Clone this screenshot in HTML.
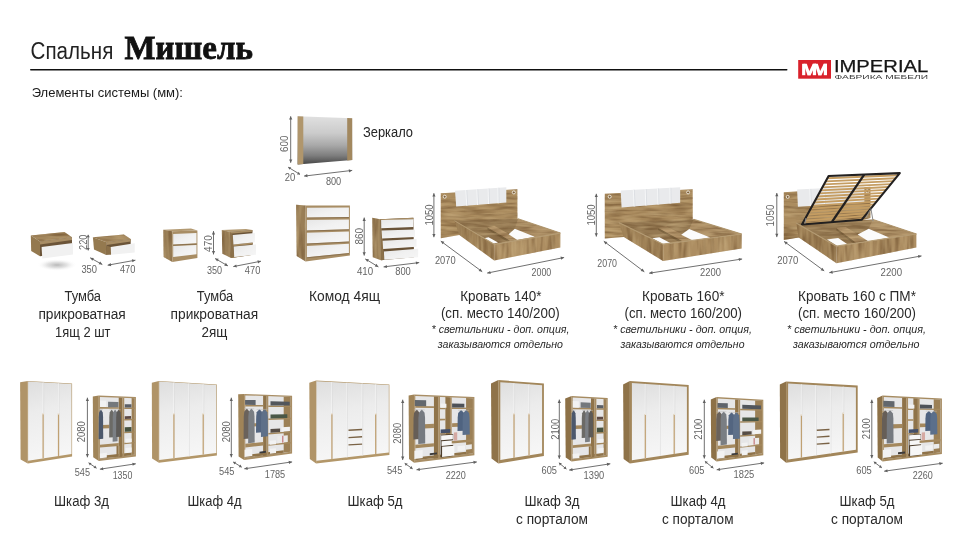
<!DOCTYPE html><html><head><meta charset="utf-8"><title>Спальня Мишель</title>
<style>html,body{margin:0;padding:0;background:#fff;}svg{display:block;will-change:transform;opacity:0.9999}</style></head><body>
<svg width="963" height="557" viewBox="0 0 963 557">
<defs>
<linearGradient id="mir" x1="0" y1="0" x2="0" y2="1"><stop offset="0" stop-color="#e0e0e0"/><stop offset="0.35" stop-color="#cbcbcb"/><stop offset="0.6" stop-color="#a9a9a9"/><stop offset="0.82" stop-color="#7d7d7d"/><stop offset="1" stop-color="#464646"/></linearGradient>
<linearGradient id="door" x1="0" y1="0" x2="0.15" y2="1"><stop offset="0" stop-color="#dedede"/><stop offset="0.4" stop-color="#ececec"/><stop offset="1" stop-color="#f6f6f6"/></linearGradient>
<linearGradient id="drw" x1="0" y1="0" x2="1" y2="1"><stop offset="0" stop-color="#e6e6e6"/><stop offset="0.5" stop-color="#f1f1f1"/><stop offset="1" stop-color="#f6f6f6"/></linearGradient>
<radialGradient id="shadow"><stop offset="0" stop-color="#b8b8b8"/><stop offset="0.5" stop-color="#dcdcdc" stop-opacity="0.8"/><stop offset="1" stop-color="#ffffff" stop-opacity="0"/></radialGradient>
<filter id="grain" x="0" y="0" width="100%" height="100%" color-interpolation-filters="sRGB"><feTurbulence type="fractalNoise" baseFrequency="0.045 0.3" numOctaves="2" seed="11" result="n"/><feColorMatrix in="n" type="matrix" values="0 0 0 0 0.40  0 0 0 0 0.28  0 0 0 0 0.15  1.3 0 0 0 -0.5" result="d"/><feColorMatrix in="n" type="matrix" values="0 0 0 0 0.80  0 0 0 0 0.70  0 0 0 0 0.52  0 1.3 0 0 -0.55" result="l"/><feMerge result="m"><feMergeNode in="d"/><feMergeNode in="l"/></feMerge><feComposite in="m" in2="SourceGraphic" operator="in" result="gi"/><feMerge><feMergeNode in="SourceGraphic"/><feMergeNode in="gi"/></feMerge></filter>
<filter id="grainv" x="0" y="0" width="100%" height="100%" color-interpolation-filters="sRGB"><feTurbulence type="fractalNoise" baseFrequency="0.22 0.03" numOctaves="2" seed="5" result="n"/><feColorMatrix in="n" type="matrix" values="0 0 0 0 0.40  0 0 0 0 0.28  0 0 0 0 0.15  1.3 0 0 0 -0.5" result="d"/><feColorMatrix in="n" type="matrix" values="0 0 0 0 0.80  0 0 0 0 0.70  0 0 0 0 0.52  0 1.3 0 0 -0.55" result="l"/><feMerge result="m"><feMergeNode in="d"/><feMergeNode in="l"/></feMerge><feComposite in="m" in2="SourceGraphic" operator="in" result="gi"/><feMerge><feMergeNode in="SourceGraphic"/><feMergeNode in="gi"/></feMerge></filter>
<filter id="soft" x="0" y="0" width="963" height="557" filterUnits="userSpaceOnUse" color-interpolation-filters="sRGB"><feGaussianBlur stdDeviation="0.4"/></filter>
</defs>
<rect width="963" height="557" fill="#ffffff"/>
<text x="30.60" y="59.30" font-family="Liberation Sans, sans-serif" font-size="23.00" fill="#222" textLength="82.70" lengthAdjust="spacingAndGlyphs" >Спальня</text>
<text x="124.50" y="59.30" font-family="Liberation Serif, serif" font-size="34.00" fill="#111" textLength="128.30" lengthAdjust="spacingAndGlyphs" font-weight="bold" stroke="#111" stroke-width="0.8">Мишель</text>
<rect x="30.00" y="69.00" width="757.50" height="1.60" fill="#111" rx="0.8"/>
<text x="31.70" y="96.90" font-family="Liberation Sans, sans-serif" font-size="13.00" fill="#1a1a1a" textLength="151.30" lengthAdjust="spacingAndGlyphs" >Элементы системы (мм):</text>
<rect x="798.20" y="60.00" width="32.80" height="18.70" fill="#d9212b" />
<polygon points="802.10,63.80 805.30,63.80 805.30,75.20 802.10,75.20" fill="#fff" />
<polygon points="803.50,63.80 806.80,63.80 810.80,75.20 807.50,75.20" fill="#fff" />
<polygon points="807.30,75.20 810.60,75.20 816.10,63.80 812.80,63.80" fill="#fff" />
<polygon points="812.80,63.80 816.10,63.80 816.10,75.20 812.80,75.20" fill="#fff" />
<polygon points="814.50,63.80 817.80,63.80 821.60,75.20 818.30,75.20" fill="#fff" />
<polygon points="818.10,75.20 821.40,75.20 827.00,63.80 823.70,63.80" fill="#fff" />
<polygon points="823.80,63.80 827.00,63.80 827.00,75.20 823.80,75.20" fill="#fff" />
<text x="833.90" y="71.80" font-family="Liberation Sans, sans-serif" font-size="15.70" fill="#151515" textLength="94.40" lengthAdjust="spacingAndGlyphs" stroke="#151515" stroke-width="0.25">IMPERIAL</text>
<text x="834.60" y="78.60" font-family="Liberation Sans, sans-serif" font-size="4.80" fill="#3a3a3a" textLength="93.40" lengthAdjust="spacingAndGlyphs" >ФАБРИКА МЕБЕЛИ</text>
<g filter="url(#soft)">
<polygon points="297.60,116.30 352.20,118.20 352.20,159.90 297.60,164.40" fill="url(#mir)" />
<polygon points="297.60,116.30 303.30,116.60 303.30,164.00 297.60,164.40" fill="#b0966c" />
<polygon points="347.20,118.00 352.20,118.20 352.20,159.90 347.20,160.40" fill="#a2885f" />
<line x1="290.70" y1="116.30" x2="290.70" y2="162.80" stroke="#606060" stroke-width="0.90" />
<polygon points="290.70,116.30 289.10,119.60 292.30,119.60" fill="#606060" />
<polygon points="290.70,162.80 289.10,159.50 292.30,159.50" fill="#606060" />
<text transform="translate(288.20,152.00) rotate(-90)" font-family="Liberation Sans, sans-serif" font-size="10.30" fill="#646464" textLength="16.50" lengthAdjust="spacingAndGlyphs">600</text>
<line x1="288.20" y1="167.20" x2="300.00" y2="174.40" stroke="#606060" stroke-width="0.90" />
<polygon points="288.20,167.20 289.50,169.87 291.17,167.14" fill="#606060" />
<polygon points="300.00,174.40 297.03,174.46 298.70,171.73" fill="#606060" />
<text x="284.70" y="180.60" font-family="Liberation Sans, sans-serif" font-size="10.30" fill="#646464" textLength="10.50" lengthAdjust="spacingAndGlyphs" >20</text>
<line x1="304.10" y1="176.10" x2="352.20" y2="170.40" stroke="#606060" stroke-width="0.90" />
<polygon points="304.10,176.10 307.57,177.30 307.19,174.12" fill="#606060" />
<polygon points="352.20,170.40 349.11,172.38 348.73,169.20" fill="#606060" />
<text x="325.90" y="185.40" font-family="Liberation Sans, sans-serif" font-size="10.30" fill="#646464" textLength="15.30" lengthAdjust="spacingAndGlyphs" >800</text>
<text x="363.00" y="136.50" font-family="Liberation Sans, sans-serif" font-size="14.00" fill="#262626" textLength="50.00" lengthAdjust="spacingAndGlyphs" >Зеркало</text>
<ellipse cx="57" cy="265" rx="20" ry="6" fill="url(#shadow)"/>
<g filter="url(#grain)">
<polygon points="30.80,235.50 64.50,231.90 72.00,237.30 40.00,241.60" fill="#a3875d" />
</g>
<polygon points="30.80,235.50 40.00,241.60 40.00,256.20 31.20,251.00" fill="#94794f" />
<polygon points="40.00,241.60 72.00,237.30 72.00,252.00 40.00,256.20" fill="#6b5438" />
<polygon points="40.00,241.60 72.00,237.30 72.00,240.10 40.00,244.40" fill="#a88d65" />
<polygon points="41.60,247.00 73.00,243.00 73.00,254.40 42.30,258.50" fill="#f1f1f1" />
<g filter="url(#grain)">
<polygon points="92.90,237.30 123.90,234.60 130.70,238.90 106.40,242.30" fill="#a3875d" />
</g>
<polygon points="92.90,237.30 106.40,242.30 105.70,254.80 94.00,249.40" fill="#94794f" />
<polygon points="106.40,242.30 130.70,238.90 130.70,250.00 105.70,254.80" fill="#6b5438" />
<polygon points="106.40,242.30 130.70,238.90 130.70,241.50 106.40,244.90" fill="#a88d65" />
<polygon points="106.40,245.60 110.70,247.00 111.10,254.80 105.70,254.80" fill="#8a6f48" />
<polygon points="110.70,247.00 134.70,243.20 134.70,252.40 111.10,254.80" fill="#f1f1f1" />
<line x1="88.20" y1="234.80" x2="88.20" y2="250.40" stroke="#606060" stroke-width="0.90" />
<polygon points="88.20,234.80 86.60,237.30 89.80,237.30" fill="#606060" />
<polygon points="88.20,250.40 86.60,247.90 89.80,247.90" fill="#606060" />
<text transform="translate(87.10,249.90) rotate(-90)" font-family="Liberation Sans, sans-serif" font-size="10.30" fill="#646464" textLength="15.30" lengthAdjust="spacingAndGlyphs">220</text>
<line x1="90.20" y1="257.80" x2="102.30" y2="264.50" stroke="#606060" stroke-width="0.90" />
<polygon points="90.20,257.80 92.31,260.80 93.86,258.00" fill="#606060" />
<polygon points="102.30,264.50 98.64,264.30 100.19,261.50" fill="#606060" />
<text x="81.40" y="273.10" font-family="Liberation Sans, sans-serif" font-size="10.30" fill="#646464" textLength="15.60" lengthAdjust="spacingAndGlyphs" >350</text>
<line x1="107.70" y1="265.20" x2="135.40" y2="260.20" stroke="#606060" stroke-width="0.90" />
<polygon points="107.70,265.20 111.23,266.19 110.66,263.04" fill="#606060" />
<polygon points="135.40,260.20 132.44,262.36 131.87,259.21" fill="#606060" />
<text x="119.90" y="273.10" font-family="Liberation Sans, sans-serif" font-size="10.30" fill="#646464" textLength="15.50" lengthAdjust="spacingAndGlyphs" >470</text>
<polygon points="163.30,229.70 191.00,228.60 197.40,230.40 172.30,231.20" fill="#b39a72" />
<g filter="url(#grainv)">
<polygon points="163.30,229.70 172.30,231.20 172.30,262.00 163.70,257.00" fill="#997e56" />
</g>
<polygon points="172.30,231.20 197.40,230.40 197.40,258.10 172.30,262.00" fill="#a88d64" />
<polygon points="173.20,234.10 196.50,233.00 196.50,243.30 173.20,244.40" fill="url(#drw)" />
<polygon points="173.20,246.00 196.50,244.90 196.50,254.30 173.20,257.00" fill="url(#drw)" />
<line x1="173.20" y1="245.20" x2="196.50" y2="244.10" stroke="#7d6444" stroke-width="0.70" />
<polygon points="221.80,230.10 246.00,229.00 252.40,230.10 230.10,231.90" fill="#b39a72" />
<g filter="url(#grainv)">
<polygon points="221.80,230.10 230.10,231.90 231.20,258.10 222.40,253.70" fill="#997e56" />
</g>
<polygon points="230.10,231.90 252.40,230.10 252.90,254.80 231.20,258.10" fill="#6a5337" />
<polygon points="230.10,231.90 252.40,230.10 252.40,231.80 230.10,233.70" fill="#a88d64" />
<polygon points="230.60,244.80 252.60,242.60 252.60,244.20 230.60,246.50" fill="#a88d64" />
<polygon points="231.10,256.30 252.90,253.20 252.90,254.80 231.20,258.10" fill="#a88d64" />
<polygon points="230.10,231.90 232.80,235.00 234.20,257.00 231.20,258.10" fill="#8b7049" />
<polygon points="232.80,235.00 254.90,233.00 254.90,242.20 233.40,244.40" fill="url(#drw)" />
<polygon points="233.70,246.60 256.00,244.40 256.00,254.80 234.20,257.00" fill="url(#drw)" />
<line x1="213.50" y1="231.10" x2="213.50" y2="254.40" stroke="#606060" stroke-width="0.90" />
<polygon points="213.50,231.10 211.90,234.40 215.10,234.40" fill="#606060" />
<polygon points="213.50,254.40 211.90,251.10 215.10,251.10" fill="#606060" />
<text transform="translate(211.70,251.90) rotate(-90)" font-family="Liberation Sans, sans-serif" font-size="10.30" fill="#646464" textLength="16.60" lengthAdjust="spacingAndGlyphs">470</text>
<line x1="215.10" y1="258.50" x2="227.90" y2="265.90" stroke="#606060" stroke-width="0.90" />
<polygon points="215.10,258.50 217.16,261.54 218.76,258.77" fill="#606060" />
<polygon points="227.90,265.90 224.24,265.63 225.84,262.86" fill="#606060" />
<text x="207.00" y="273.80" font-family="Liberation Sans, sans-serif" font-size="10.30" fill="#646464" textLength="15.10" lengthAdjust="spacingAndGlyphs" >350</text>
<line x1="233.30" y1="266.60" x2="261.00" y2="261.20" stroke="#606060" stroke-width="0.90" />
<polygon points="233.30,266.60 236.85,267.54 236.23,264.40" fill="#606060" />
<polygon points="261.00,261.20 258.07,263.40 257.45,260.26" fill="#606060" />
<text x="244.80" y="273.80" font-family="Liberation Sans, sans-serif" font-size="10.30" fill="#646464" textLength="15.50" lengthAdjust="spacingAndGlyphs" >470</text>
<g filter="url(#grainv)">
<polygon points="296.10,204.70 305.60,205.60 305.60,261.50 296.70,256.00" fill="#997e56" />
</g>
<polygon points="305.60,205.60 349.90,205.60 349.90,255.40 305.60,261.50" fill="#a88d64" />
<polygon points="306.90,207.80 348.90,207.50 348.90,216.90 306.90,217.50" fill="url(#drw)" />
<line x1="306.90" y1="218.10" x2="348.90" y2="217.50" stroke="#806747" stroke-width="0.70" />
<polygon points="306.90,220.00 348.90,219.40 348.90,229.20 306.90,230.40" fill="url(#drw)" />
<line x1="306.90" y1="231.00" x2="348.90" y2="229.80" stroke="#806747" stroke-width="0.70" />
<polygon points="306.90,232.80 348.90,231.60 348.90,241.40 306.90,243.40" fill="url(#drw)" />
<line x1="306.90" y1="244.00" x2="348.90" y2="242.00" stroke="#806747" stroke-width="0.70" />
<polygon points="306.90,245.90 348.90,243.80 348.90,253.00 306.90,257.20" fill="url(#drw)" />
<line x1="306.90" y1="257.80" x2="348.90" y2="253.60" stroke="#806747" stroke-width="0.70" />
<g filter="url(#grainv)">
<polygon points="372.20,217.80 380.10,219.20 381.10,260.30 372.80,257.20" fill="#997e56" />
</g>
<polygon points="380.10,219.20 413.40,217.80 414.00,257.20 381.10,260.30" fill="#6a5337" />
<polygon points="380.10,219.20 413.40,217.80 413.40,219.20 380.10,220.60" fill="#a88d64" />
<polygon points="380.10,219.20 381.30,220.20 384.30,259.70 381.10,260.30" fill="#8b7049" />
<polygon points="381.10,220.10 413.40,219.20 413.40,227.10 381.30,228.30" fill="url(#drw)" />
<polygon points="381.60,230.60 415.00,229.60 415.00,236.90 382.10,238.60" fill="url(#drw)" />
<polygon points="382.60,240.70 416.50,239.10 416.50,246.70 383.10,249.00" fill="url(#drw)" />
<polygon points="383.90,251.40 418.10,248.70 418.10,257.20 384.30,259.70" fill="url(#drw)" />
<line x1="364.20" y1="217.60" x2="364.20" y2="255.60" stroke="#606060" stroke-width="0.90" />
<polygon points="364.20,217.60 362.60,220.90 365.80,220.90" fill="#606060" />
<polygon points="364.20,255.60 362.60,252.30 365.80,252.30" fill="#606060" />
<text transform="translate(362.90,244.50) rotate(-90)" font-family="Liberation Sans, sans-serif" font-size="10.30" fill="#646464" textLength="16.60" lengthAdjust="spacingAndGlyphs">860</text>
<line x1="365.30" y1="258.90" x2="378.40" y2="266.90" stroke="#606060" stroke-width="0.90" />
<polygon points="365.30,258.90 367.28,261.99 368.95,259.25" fill="#606060" />
<polygon points="378.40,266.90 374.75,266.55 376.42,263.81" fill="#606060" />
<text x="356.90" y="274.70" font-family="Liberation Sans, sans-serif" font-size="10.30" fill="#646464" textLength="16.20" lengthAdjust="spacingAndGlyphs" >410</text>
<line x1="383.60" y1="266.90" x2="419.20" y2="262.60" stroke="#606060" stroke-width="0.90" />
<polygon points="383.60,266.90 387.07,268.09 386.68,264.92" fill="#606060" />
<polygon points="419.20,262.60 416.12,264.58 415.73,261.41" fill="#606060" />
<text x="395.20" y="274.70" font-family="Liberation Sans, sans-serif" font-size="10.30" fill="#646464" textLength="15.60" lengthAdjust="spacingAndGlyphs" >800</text>
<g filter="url(#grain)">
<polygon points="440.80,193.20 517.40,189.20 517.40,222.40 459.30,234.90 440.80,238.20" fill="#ab8c5f" />
</g>
<polygon points="455.00,190.80 506.30,187.20 506.30,202.60 456.20,206.60" fill="#e9eaec" />
<line x1="465.88" y1="190.04" x2="466.82" y2="205.75" stroke="#f6f7f8" stroke-width="1.10" />
<line x1="466.78" y1="190.04" x2="467.72" y2="205.75" stroke="#cfd3d8" stroke-width="0.50" />
<line x1="476.91" y1="189.26" x2="477.59" y2="204.89" stroke="#f6f7f8" stroke-width="1.10" />
<line x1="477.81" y1="189.26" x2="478.49" y2="204.89" stroke="#cfd3d8" stroke-width="0.50" />
<line x1="488.19" y1="188.47" x2="488.61" y2="204.01" stroke="#f6f7f8" stroke-width="1.10" />
<line x1="489.09" y1="188.47" x2="489.51" y2="204.01" stroke="#cfd3d8" stroke-width="0.50" />
<line x1="497.99" y1="187.78" x2="498.18" y2="203.25" stroke="#f6f7f8" stroke-width="1.10" />
<line x1="498.89" y1="187.78" x2="499.08" y2="203.25" stroke="#cfd3d8" stroke-width="0.50" />
<circle cx="444.7" cy="196.7" r="1.5" fill="#7d5f3a" stroke="#f3eee4" stroke-width="0.9"/>
<circle cx="513.8" cy="192.4" r="1.5" fill="#7d5f3a" stroke="#f3eee4" stroke-width="0.9"/>
<g filter="url(#grain)">
<polygon points="454.40,220.60 494.20,244.30 560.30,233.10 517.90,218.70" fill="#957952" />
<polygon points="517.90,219.30 560.30,233.10 534.70,237.40 514.80,228.70" fill="#af9167" />
<polygon points="487.40,227.20 509.80,240.50 509.80,243.30 487.40,229.40" fill="#7c6440" />
<polygon points="487.40,227.20 494.20,225.70 517.90,238.90 509.80,240.50" fill="#b99a6f" />
</g>
<polygon points="482.60,238.40 488.60,237.20 498.00,242.60 492.40,243.90" fill="#fbfbfb" />
<polygon points="508.60,234.30 514.80,228.70 534.70,236.80 517.30,239.90" fill="#fbfbfb" />
<g filter="url(#grainv)">
<polygon points="454.40,220.60 494.20,244.30 494.20,260.50 459.30,234.90" fill="#a08257" />
<polygon points="494.20,244.30 560.30,233.10 560.30,247.40 494.20,260.50" fill="#ad8e62" />
</g>
<line x1="454.40" y1="220.60" x2="494.20" y2="244.30" stroke="#b39a72" stroke-width="1.10" />
<line x1="494.20" y1="244.30" x2="560.30" y2="233.10" stroke="#b69d75" stroke-width="1.20" />
<line x1="560.30" y1="233.10" x2="517.90" y2="218.70" stroke="#b0976f" stroke-width="1.10" />
<line x1="433.90" y1="193.20" x2="433.90" y2="237.20" stroke="#606060" stroke-width="0.90" />
<polygon points="433.90,193.20 432.30,196.50 435.50,196.50" fill="#606060" />
<polygon points="433.90,237.20 432.30,233.90 435.50,233.90" fill="#606060" />
<text transform="translate(432.80,225.50) rotate(-90)" font-family="Liberation Sans, sans-serif" font-size="10.30" fill="#646464" textLength="21.10" lengthAdjust="spacingAndGlyphs">1050</text>
<line x1="440.80" y1="241.10" x2="482.20" y2="271.70" stroke="#606060" stroke-width="0.90" />
<polygon points="440.80,241.10 442.50,244.35 444.40,241.77" fill="#606060" />
<polygon points="482.20,271.70 478.60,271.03 480.50,268.45" fill="#606060" />
<text x="434.90" y="264.30" font-family="Liberation Sans, sans-serif" font-size="10.30" fill="#646464" textLength="20.70" lengthAdjust="spacingAndGlyphs" >2070</text>
<line x1="487.20" y1="273.10" x2="564.10" y2="257.50" stroke="#606060" stroke-width="0.90" />
<polygon points="487.20,273.10 490.75,274.01 490.12,270.88" fill="#606060" />
<polygon points="564.10,257.50 561.18,259.72 560.55,256.59" fill="#606060" />
<text x="531.60" y="275.80" font-family="Liberation Sans, sans-serif" font-size="10.30" fill="#646464" textLength="19.70" lengthAdjust="spacingAndGlyphs" >2000</text>
<g filter="url(#grain)">
<polygon points="604.80,193.80 692.70,189.20 692.70,219.50 623.80,236.90 604.80,238.60" fill="#ab8c5f" />
</g>
<polygon points="620.60,190.40 680.20,187.30 680.20,202.70 621.60,207.60" fill="#e9eaec" />
<line x1="633.41" y1="189.73" x2="634.20" y2="206.55" stroke="#f6f7f8" stroke-width="1.10" />
<line x1="634.31" y1="189.73" x2="635.10" y2="206.55" stroke="#cfd3d8" stroke-width="0.50" />
<line x1="645.27" y1="189.12" x2="645.86" y2="205.57" stroke="#f6f7f8" stroke-width="1.10" />
<line x1="646.17" y1="189.12" x2="646.76" y2="205.57" stroke="#cfd3d8" stroke-width="0.50" />
<line x1="657.67" y1="188.47" x2="658.05" y2="204.55" stroke="#f6f7f8" stroke-width="1.10" />
<line x1="658.57" y1="188.47" x2="658.95" y2="204.55" stroke="#cfd3d8" stroke-width="0.50" />
<line x1="670.01" y1="187.83" x2="670.18" y2="203.54" stroke="#f6f7f8" stroke-width="1.10" />
<line x1="670.91" y1="187.83" x2="671.08" y2="203.54" stroke="#cfd3d8" stroke-width="0.50" />
<circle cx="609.7" cy="196.7" r="1.5" fill="#7d5f3a" stroke="#f3eee4" stroke-width="0.9"/>
<circle cx="688.1" cy="192.4" r="1.5" fill="#7d5f3a" stroke="#f3eee4" stroke-width="0.9"/>
<g filter="url(#grain)">
<polygon points="618.70,222.40 663.10,244.20 741.60,234.00 693.60,219.40" fill="#957952" />
<polygon points="693.60,219.40 741.60,234.00 710.30,237.60 689.20,228.90" fill="#af9167" />
<polygon points="658.00,227.70 682.70,241.30 682.70,244.10 658.00,229.90" fill="#7c6440" />
<polygon points="658.00,227.70 666.00,226.30 692.90,239.80 682.70,241.30" fill="#b99a6f" />
</g>
<polygon points="652.20,238.30 659.40,237.30 670.30,243.10 663.10,244.20" fill="#fbfbfb" />
<polygon points="681.20,234.70 689.20,228.90 710.30,237.60 692.90,240.50" fill="#fbfbfb" />
<g filter="url(#grainv)">
<polygon points="618.70,222.40 663.10,244.20 663.10,260.90 623.80,236.90" fill="#a08257" />
<polygon points="663.10,244.20 741.60,234.00 741.60,248.50 663.10,260.90" fill="#ad8e62" />
</g>
<line x1="618.70" y1="222.40" x2="663.10" y2="244.20" stroke="#b39a72" stroke-width="1.10" />
<line x1="663.10" y1="244.20" x2="741.60" y2="234.00" stroke="#b69d75" stroke-width="1.20" />
<line x1="741.60" y1="234.00" x2="693.60" y2="219.40" stroke="#b0976f" stroke-width="1.10" />
<line x1="596.30" y1="193.80" x2="596.30" y2="236.60" stroke="#606060" stroke-width="0.90" />
<polygon points="596.30,193.80 594.70,197.10 597.90,197.10" fill="#606060" />
<polygon points="596.30,236.60 594.70,233.30 597.90,233.30" fill="#606060" />
<text transform="translate(594.80,225.60) rotate(-90)" font-family="Liberation Sans, sans-serif" font-size="10.30" fill="#646464" textLength="21.20" lengthAdjust="spacingAndGlyphs">1050</text>
<line x1="603.80" y1="241.20" x2="644.30" y2="271.80" stroke="#606060" stroke-width="0.90" />
<polygon points="603.80,241.20 605.47,244.47 607.40,241.91" fill="#606060" />
<polygon points="644.30,271.80 640.70,271.09 642.63,268.53" fill="#606060" />
<text x="597.30" y="266.80" font-family="Liberation Sans, sans-serif" font-size="10.30" fill="#646464" textLength="19.70" lengthAdjust="spacingAndGlyphs" >2070</text>
<line x1="649.20" y1="273.20" x2="742.10" y2="259.00" stroke="#606060" stroke-width="0.90" />
<polygon points="649.20,273.20 652.70,274.28 652.22,271.12" fill="#606060" />
<polygon points="742.10,259.00 739.08,261.08 738.60,257.92" fill="#606060" />
<text x="700.00" y="275.90" font-family="Liberation Sans, sans-serif" font-size="10.30" fill="#646464" textLength="20.90" lengthAdjust="spacingAndGlyphs" >2200</text>
<g filter="url(#grain)">
<polygon points="783.80,192.20 870.40,186.70 870.40,218.00 798.80,237.40 783.80,239.90" fill="#ab8c5f" />
</g>
<polygon points="797.10,189.60 864.40,186.20 864.40,202.40 797.90,206.70" fill="#e9eaec" />
<line x1="809.89" y1="188.95" x2="810.53" y2="205.88" stroke="#f6f7f8" stroke-width="1.10" />
<line x1="810.79" y1="188.95" x2="811.43" y2="205.88" stroke="#cfd3d8" stroke-width="0.50" />
<line x1="824.02" y1="188.24" x2="824.50" y2="204.98" stroke="#f6f7f8" stroke-width="1.10" />
<line x1="824.92" y1="188.24" x2="825.40" y2="204.98" stroke="#cfd3d8" stroke-width="0.50" />
<circle cx="787.7" cy="196.9" r="1.5" fill="#7d5f3a" stroke="#f3eee4" stroke-width="0.9"/>
<circle cx="867.3" cy="191.3" r="1.5" fill="#7d5f3a" stroke="#f3eee4" stroke-width="0.9"/>
<g filter="url(#grain)">
<polygon points="796.20,222.90 836.50,246.20 916.40,234.00 872.90,219.50" fill="#957952" />
<polygon points="872.90,219.50 916.40,234.00 889.10,238.20 868.70,228.80" fill="#af9167" />
<polygon points="836.30,228.00 855.90,242.50 855.90,245.30 836.30,230.20" fill="#7c6440" />
<polygon points="836.30,228.00 845.70,227.10 867.00,239.90 855.90,242.50" fill="#b99a6f" />
</g>
<polygon points="827.00,239.50 838.20,237.90 847.80,244.50 837.80,246.20" fill="#fbfbfb" />
<polygon points="857.60,234.50 868.70,228.80 889.10,237.40 868.70,241.60" fill="#fbfbfb" />
<line x1="827.35" y1="178.27" x2="898.01" y2="175.29" stroke="#c59d62" stroke-width="1.85" />
<line x1="825.69" y1="181.30" x2="895.62" y2="178.21" stroke="#c59d62" stroke-width="1.85" />
<line x1="824.03" y1="184.34" x2="893.23" y2="181.13" stroke="#c59d62" stroke-width="1.85" />
<line x1="822.37" y1="187.37" x2="890.85" y2="184.05" stroke="#c59d62" stroke-width="1.85" />
<line x1="820.70" y1="190.40" x2="888.46" y2="186.96" stroke="#c59d62" stroke-width="1.85" />
<line x1="819.04" y1="193.43" x2="886.07" y2="189.88" stroke="#c59d62" stroke-width="1.85" />
<line x1="817.38" y1="196.46" x2="883.68" y2="192.80" stroke="#c59d62" stroke-width="1.85" />
<line x1="815.72" y1="199.49" x2="881.30" y2="195.72" stroke="#c59d62" stroke-width="1.85" />
<line x1="814.05" y1="202.52" x2="878.91" y2="198.64" stroke="#c59d62" stroke-width="1.85" />
<line x1="812.39" y1="205.55" x2="876.52" y2="201.56" stroke="#c59d62" stroke-width="1.85" />
<line x1="810.73" y1="208.59" x2="874.13" y2="204.48" stroke="#c59d62" stroke-width="1.85" />
<line x1="809.07" y1="211.62" x2="871.75" y2="207.40" stroke="#c59d62" stroke-width="1.85" />
<line x1="807.40" y1="214.65" x2="869.36" y2="210.31" stroke="#c59d62" stroke-width="1.85" />
<line x1="805.74" y1="217.68" x2="866.97" y2="213.23" stroke="#c59d62" stroke-width="1.85" />
<line x1="804.08" y1="220.71" x2="864.58" y2="216.15" stroke="#c59d62" stroke-width="1.85" />
<line x1="802.42" y1="223.74" x2="862.20" y2="219.07" stroke="#c59d62" stroke-width="1.85" />
<polygon points="828.60,176.00 899.80,173.10 861.60,219.80 802.00,224.50" fill="none" stroke="#222020" stroke-width="2.1" stroke-linejoin="round"/>
<line x1="864.20" y1="174.55" x2="831.80" y2="222.15" stroke="#222020" stroke-width="2.30" />
<line x1="806.00" y1="218.00" x2="804.90" y2="223.60" stroke="#8b8b8b" stroke-width="1.00" />
<line x1="870.90" y1="208.50" x2="873.10" y2="221.20" stroke="#8a8a8a" stroke-width="1.00" />
<line x1="870.00" y1="210.00" x2="866.00" y2="218.00" stroke="#9a9a9a" stroke-width="0.80" />
<g filter="url(#grainv)">
<polygon points="796.20,222.90 836.50,246.20 836.50,263.20 798.80,237.40" fill="#a08257" />
<polygon points="836.50,246.20 916.40,234.00 916.40,247.60 836.50,263.20" fill="#ad8e62" />
</g>
<line x1="796.20" y1="222.90" x2="836.50" y2="246.20" stroke="#b39a72" stroke-width="1.10" />
<line x1="836.50" y1="246.20" x2="916.40" y2="234.00" stroke="#b69d75" stroke-width="1.20" />
<line x1="916.40" y1="234.00" x2="872.90" y2="219.50" stroke="#b0976f" stroke-width="1.10" />
<line x1="776.80" y1="193.00" x2="776.80" y2="237.10" stroke="#606060" stroke-width="0.90" />
<polygon points="776.80,193.00 775.20,196.30 778.40,196.30" fill="#606060" />
<polygon points="776.80,237.10 775.20,233.80 778.40,233.80" fill="#606060" />
<text transform="translate(774.30,226.60) rotate(-90)" font-family="Liberation Sans, sans-serif" font-size="10.30" fill="#646464" textLength="22.00" lengthAdjust="spacingAndGlyphs">1050</text>
<line x1="784.10" y1="241.40" x2="824.20" y2="270.90" stroke="#606060" stroke-width="0.90" />
<polygon points="784.10,241.40 785.81,244.64 787.71,242.07" fill="#606060" />
<polygon points="824.20,270.90 820.59,270.23 822.49,267.66" fill="#606060" />
<text x="777.20" y="263.50" font-family="Liberation Sans, sans-serif" font-size="10.30" fill="#646464" textLength="21.10" lengthAdjust="spacingAndGlyphs" >2070</text>
<line x1="829.30" y1="272.70" x2="921.50" y2="255.90" stroke="#606060" stroke-width="0.90" />
<polygon points="829.30,272.70 832.83,273.68 832.26,270.53" fill="#606060" />
<polygon points="921.50,255.90 918.54,258.07 917.97,254.92" fill="#606060" />
<text x="880.60" y="276.40" font-family="Liberation Sans, sans-serif" font-size="10.30" fill="#646464" textLength="21.50" lengthAdjust="spacingAndGlyphs" >2200</text>
</g>
<text x="64.50" y="301.10" font-family="Liberation Sans, sans-serif" font-size="14.00" fill="#2a2a2a" textLength="36.50" lengthAdjust="spacingAndGlyphs" >Тумба</text>
<text x="38.40" y="319.10" font-family="Liberation Sans, sans-serif" font-size="14.00" fill="#2a2a2a" textLength="87.40" lengthAdjust="spacingAndGlyphs" >прикроватная</text>
<text x="55.10" y="337.20" font-family="Liberation Sans, sans-serif" font-size="14.00" fill="#2a2a2a" textLength="55.30" lengthAdjust="spacingAndGlyphs" >1ящ 2 шт</text>
<text x="196.80" y="301.10" font-family="Liberation Sans, sans-serif" font-size="14.00" fill="#2a2a2a" textLength="36.50" lengthAdjust="spacingAndGlyphs" >Тумба</text>
<text x="170.60" y="319.10" font-family="Liberation Sans, sans-serif" font-size="14.00" fill="#2a2a2a" textLength="87.50" lengthAdjust="spacingAndGlyphs" >прикроватная</text>
<text x="201.40" y="337.20" font-family="Liberation Sans, sans-serif" font-size="14.00" fill="#2a2a2a" textLength="25.90" lengthAdjust="spacingAndGlyphs" >2ящ</text>
<text x="309.00" y="301.10" font-family="Liberation Sans, sans-serif" font-size="14.00" fill="#2a2a2a" textLength="71.00" lengthAdjust="spacingAndGlyphs" >Комод 4ящ</text>
<text x="460.20" y="300.70" font-family="Liberation Sans, sans-serif" font-size="14.00" fill="#2a2a2a" textLength="81.30" lengthAdjust="spacingAndGlyphs" >Кровать 140*</text>
<text x="440.90" y="318.40" font-family="Liberation Sans, sans-serif" font-size="14.00" fill="#2a2a2a" textLength="118.90" lengthAdjust="spacingAndGlyphs" >(сп. место 140/200)</text>
<text x="431.60" y="333.40" font-family="Liberation Sans, sans-serif" font-size="10.50" fill="#2a2a2a" textLength="137.90" lengthAdjust="spacingAndGlyphs" font-style="italic">* светильники - доп. опция,</text>
<text x="437.80" y="347.80" font-family="Liberation Sans, sans-serif" font-size="10.50" fill="#2a2a2a" textLength="125.20" lengthAdjust="spacingAndGlyphs" font-style="italic">заказываются отдельно</text>
<text x="642.00" y="300.70" font-family="Liberation Sans, sans-serif" font-size="14.00" fill="#2a2a2a" textLength="82.50" lengthAdjust="spacingAndGlyphs" >Кровать 160*</text>
<text x="624.50" y="318.40" font-family="Liberation Sans, sans-serif" font-size="14.00" fill="#2a2a2a" textLength="117.50" lengthAdjust="spacingAndGlyphs" >(сп. место 160/200)</text>
<text x="613.00" y="333.40" font-family="Liberation Sans, sans-serif" font-size="10.50" fill="#2a2a2a" textLength="139.00" lengthAdjust="spacingAndGlyphs" font-style="italic">* светильники - доп. опция,</text>
<text x="620.50" y="347.80" font-family="Liberation Sans, sans-serif" font-size="10.50" fill="#2a2a2a" textLength="124.00" lengthAdjust="spacingAndGlyphs" font-style="italic">заказываются отдельно</text>
<text x="798.00" y="300.70" font-family="Liberation Sans, sans-serif" font-size="14.00" fill="#2a2a2a" textLength="118.00" lengthAdjust="spacingAndGlyphs" >Кровать 160 с ПМ*</text>
<text x="798.00" y="318.40" font-family="Liberation Sans, sans-serif" font-size="14.00" fill="#2a2a2a" textLength="118.00" lengthAdjust="spacingAndGlyphs" >(сп. место 160/200)</text>
<text x="787.00" y="333.40" font-family="Liberation Sans, sans-serif" font-size="10.50" fill="#2a2a2a" textLength="139.00" lengthAdjust="spacingAndGlyphs" font-style="italic">* светильники - доп. опция,</text>
<text x="793.00" y="347.80" font-family="Liberation Sans, sans-serif" font-size="10.50" fill="#2a2a2a" textLength="126.50" lengthAdjust="spacingAndGlyphs" font-style="italic">заказываются отдельно</text>
<text x="54.00" y="506.00" font-family="Liberation Sans, sans-serif" font-size="14.00" fill="#2a2a2a" textLength="55.00" lengthAdjust="spacingAndGlyphs" >Шкаф 3д</text>
<text x="187.50" y="506.00" font-family="Liberation Sans, sans-serif" font-size="14.00" fill="#2a2a2a" textLength="54.00" lengthAdjust="spacingAndGlyphs" >Шкаф 4д</text>
<text x="347.50" y="506.00" font-family="Liberation Sans, sans-serif" font-size="14.00" fill="#2a2a2a" textLength="55.00" lengthAdjust="spacingAndGlyphs" >Шкаф 5д</text>
<text x="524.50" y="506.00" font-family="Liberation Sans, sans-serif" font-size="14.00" fill="#2a2a2a" textLength="55.00" lengthAdjust="spacingAndGlyphs" >Шкаф 3д</text>
<text x="516.00" y="524.00" font-family="Liberation Sans, sans-serif" font-size="14.00" fill="#2a2a2a" textLength="72.00" lengthAdjust="spacingAndGlyphs" >с порталом</text>
<text x="670.50" y="506.00" font-family="Liberation Sans, sans-serif" font-size="14.00" fill="#2a2a2a" textLength="55.00" lengthAdjust="spacingAndGlyphs" >Шкаф 4д</text>
<text x="662.00" y="524.00" font-family="Liberation Sans, sans-serif" font-size="14.00" fill="#2a2a2a" textLength="71.50" lengthAdjust="spacingAndGlyphs" >с порталом</text>
<text x="839.50" y="506.00" font-family="Liberation Sans, sans-serif" font-size="14.00" fill="#2a2a2a" textLength="55.00" lengthAdjust="spacingAndGlyphs" >Шкаф 5д</text>
<text x="831.00" y="524.00" font-family="Liberation Sans, sans-serif" font-size="14.00" fill="#2a2a2a" textLength="72.00" lengthAdjust="spacingAndGlyphs" >с порталом</text>
<g filter="url(#soft)">
<polygon points="20.10,382.20 27.80,381.00 27.80,463.40 20.60,459.40" fill="#b09468" />
<polygon points="27.80,381.00 72.10,383.50 72.10,456.50 27.80,463.40" fill="#b39769" />
<polygon points="28.10,381.62 71.50,384.07 71.50,453.89 28.10,460.65" fill="url(#door)" />
<line x1="43.10" y1="382.46" x2="43.10" y2="458.32" stroke="#f7f7f7" stroke-width="0.80" />
<line x1="43.70" y1="382.46" x2="43.70" y2="458.32" stroke="#cfcfcf" stroke-width="0.40" />
<line x1="58.50" y1="383.33" x2="58.50" y2="455.92" stroke="#f7f7f7" stroke-width="0.80" />
<line x1="59.10" y1="383.33" x2="59.10" y2="455.92" stroke="#cfcfcf" stroke-width="0.40" />
<line x1="43.10" y1="413.40" x2="43.10" y2="458.62" stroke="#c0a173" stroke-width="1.25" />
<line x1="43.10" y1="413.10" x2="43.10" y2="414.60" stroke="#efe9df" stroke-width="1.25" />
<line x1="58.50" y1="413.40" x2="58.50" y2="456.22" stroke="#c0a173" stroke-width="1.25" />
<line x1="58.50" y1="413.10" x2="58.50" y2="414.60" stroke="#efe9df" stroke-width="1.25" />
<polygon points="92.80,396.50 98.80,395.60 98.80,461.10 93.20,457.20" fill="#a08458" />
<polygon points="98.80,395.60 135.90,396.90 135.90,456.60 98.80,461.10" fill="#a98e65" />
<polygon points="99.91,397.08 134.60,398.17 134.60,454.66 99.91,458.68" fill="#e6e6e7" />
<polygon points="131.63,398.08 134.68,398.17 134.68,454.65 131.63,455.00" fill="#9c8056" />
<polygon points="99.91,456.07 131.63,452.59 131.63,455.13 99.91,458.81" fill="#8f7349" />
<polygon points="118.72,397.55 122.36,397.66 122.36,456.70 118.72,457.12" fill="#8f7349" />
<polygon points="122.36,397.66 124.25,397.72 124.25,456.47 122.36,456.70" fill="#a98e65" />
<polygon points="99.91,407.07 118.72,407.22 118.72,408.71 99.91,408.64" fill="#a4885d" />
<polygon points="99.91,444.63 118.72,443.09 118.72,445.89 99.91,447.57" fill="#a4885d" />
<polygon points="116.50,446.09 118.46,445.92 118.46,456.53 116.50,456.76" fill="#8f7349" />
<polygon points="118.46,445.92 119.72,445.81 119.72,456.38 118.46,456.53" fill="#a98e65" />
<polygon points="102.29,424.95 109.41,424.70 109.41,428.21 102.29,428.52" fill="#a4885d" />
<polygon points="100.69,409.69 101.14,409.69 102.76,412.61 103.08,417.47 103.19,438.85 98.64,439.17 98.75,417.54 99.07,412.63" fill="#4c586c" />
<line x1="98.95" y1="409.68" x2="102.88" y2="409.69" stroke="#b9b9b9" stroke-width="0.50" />
<polygon points="111.44,409.70 111.88,409.70 113.66,412.55 114.02,417.28 114.13,437.15 109.19,437.48 109.31,417.36 109.66,412.57" fill="#6b6a66" />
<polygon points="114.90,409.71 115.35,409.71 117.13,412.53 117.48,417.22 117.60,441.30 112.65,441.69 112.77,417.30 113.12,412.55" fill="#7b7f84" />
<polygon points="118.36,409.71 118.81,409.71 120.59,412.51 120.94,417.16 121.06,436.69 116.11,437.02 116.23,417.24 116.59,412.53" fill="#5d5a57" />
<line x1="109.56" y1="409.70" x2="120.69" y2="409.71" stroke="#b9b9b9" stroke-width="0.50" />
<polygon points="99.91,453.45 106.81,452.74 106.81,457.56 99.91,458.35" fill="#f2f2f2" />
<polygon points="100.10,400.54 106.22,400.69 106.22,407.12 100.10,407.07" fill="#f2f2f2" />
<polygon points="108.08,401.69 118.46,401.91 118.46,407.21 108.08,407.13" fill="#74787c" />
<polygon points="124.25,407.44 134.60,407.52 134.60,408.95 124.25,408.92" fill="#a4885d" />
<polygon points="124.25,419.01 134.60,418.78 134.60,420.22 124.25,420.49" fill="#a4885d" />
<polygon points="124.25,431.80 134.60,431.24 134.60,432.68 124.25,433.28" fill="#a4885d" />
<polygon points="124.25,442.76 134.60,441.90 134.60,443.34 124.25,444.23" fill="#a4885d" />
<polygon points="125.51,438.85 131.63,438.40 131.63,442.15 125.51,442.65" fill="#f2f2f2" />
<polygon points="125.51,448.05 131.63,447.46 131.63,452.29 125.51,452.95" fill="#f2f2f2" />
<polygon points="124.77,404.19 131.45,404.29 131.45,407.49 124.77,407.45" fill="#5b5f66" />
<polygon points="124.77,416.17 131.08,416.08 131.08,418.86 124.77,419.00" fill="#5e4a44" />
<polygon points="124.77,427.23 131.45,426.94 131.45,431.41 124.77,431.78" fill="#47523f" />
<line x1="87.40" y1="397.70" x2="87.40" y2="457.30" stroke="#606060" stroke-width="0.90" />
<polygon points="87.40,397.70 85.80,401.00 89.00,401.00" fill="#606060" />
<polygon points="87.40,457.30 85.80,454.00 89.00,454.00" fill="#606060" />
<text transform="translate(84.90,442.30) rotate(-90)" font-family="Liberation Sans, sans-serif" font-size="10.30" fill="#646464" textLength="21.10" lengthAdjust="spacingAndGlyphs">2080</text>
<line x1="88.60" y1="462.80" x2="96.50" y2="468.20" stroke="#606060" stroke-width="0.90" />
<polygon points="88.60,462.80 89.76,465.53 91.57,462.89" fill="#606060" />
<polygon points="96.50,468.20 93.53,468.11 95.34,465.47" fill="#606060" />
<text x="74.80" y="475.60" font-family="Liberation Sans, sans-serif" font-size="10.30" fill="#646464" textLength="15.20" lengthAdjust="spacingAndGlyphs" >545</text>
<line x1="99.90" y1="469.20" x2="135.80" y2="463.80" stroke="#606060" stroke-width="0.90" />
<polygon points="99.90,469.20 103.40,470.29 102.93,467.13" fill="#606060" />
<polygon points="135.80,463.80 132.77,465.87 132.30,462.71" fill="#606060" />
<text x="112.70" y="478.50" font-family="Liberation Sans, sans-serif" font-size="10.30" fill="#646464" textLength="19.70" lengthAdjust="spacingAndGlyphs" >1350</text>
<polygon points="151.80,382.70 158.90,381.00 158.90,462.80 152.10,458.50" fill="#b09468" />
<polygon points="158.90,381.00 216.90,384.40 216.90,455.50 158.90,462.80" fill="#b39769" />
<polygon points="159.20,381.62 216.30,384.96 216.30,452.88 159.20,460.06" fill="url(#door)" />
<line x1="173.90" y1="382.48" x2="173.90" y2="458.21" stroke="#f7f7f7" stroke-width="0.80" />
<line x1="174.50" y1="382.48" x2="174.50" y2="458.21" stroke="#cfcfcf" stroke-width="0.40" />
<line x1="188.80" y1="383.35" x2="188.80" y2="456.34" stroke="#f7f7f7" stroke-width="0.80" />
<line x1="189.40" y1="383.35" x2="189.40" y2="456.34" stroke="#cfcfcf" stroke-width="0.40" />
<line x1="203.20" y1="384.20" x2="203.20" y2="454.52" stroke="#f7f7f7" stroke-width="0.80" />
<line x1="203.80" y1="384.20" x2="203.80" y2="454.52" stroke="#cfcfcf" stroke-width="0.40" />
<line x1="173.90" y1="413.40" x2="173.90" y2="458.51" stroke="#c0a173" stroke-width="1.25" />
<line x1="173.90" y1="413.10" x2="173.90" y2="414.60" stroke="#efe9df" stroke-width="1.25" />
<line x1="203.20" y1="413.40" x2="203.20" y2="454.82" stroke="#c0a173" stroke-width="1.25" />
<line x1="203.20" y1="413.10" x2="203.20" y2="414.60" stroke="#efe9df" stroke-width="1.25" />
<polygon points="238.20,394.30 244.10,393.90 244.10,460.10 238.60,456.60" fill="#a08458" />
<polygon points="244.10,393.90 292.10,395.70 292.10,453.50 244.10,460.10" fill="#a98e65" />
<polygon points="245.30,395.40 290.90,396.93 290.90,451.63 245.30,457.63" fill="#e6e6e7" />
<polygon points="283.70,396.69 290.76,396.93 290.76,451.65 283.70,452.58" fill="#9c8056" />
<polygon points="245.30,454.99 283.70,450.21 283.70,452.70 245.30,457.76" fill="#8f7349" />
<polygon points="263.11,395.87 266.66,395.99 266.66,455.44 263.11,455.91" fill="#8f7349" />
<polygon points="266.66,395.99 268.29,396.05 268.29,455.22 266.66,455.44" fill="#a98e65" />
<polygon points="245.30,404.83 263.11,404.99 263.11,406.50 245.30,406.42" fill="#a4885d" />
<polygon points="245.30,443.77 263.11,442.08 263.11,445.54 245.30,447.40" fill="#a4885d" />
<polygon points="253.22,423.31 257.06,423.16 257.06,426.35 253.22,426.54" fill="#a4885d" />
<polygon points="246.57,408.79 247.15,408.79 249.50,411.72 249.96,416.60 250.12,438.43 243.60,438.96 243.76,416.75 244.22,411.77" fill="#6a625b" />
<polygon points="251.13,408.78 251.71,408.78 254.06,411.68 254.52,416.50 254.68,442.56 248.16,443.17 248.32,416.64 248.78,411.73" fill="#7a7e83" />
<line x1="244.10" y1="408.79" x2="254.18" y2="408.78" stroke="#b9b9b9" stroke-width="0.50" />
<polygon points="259.23,409.40 259.81,409.40 262.36,412.23 262.87,416.94 263.03,432.34 256.01,432.82 256.17,417.10 256.68,412.29" fill="#536580" />
<polygon points="264.15,409.38 264.73,409.38 267.28,412.17 267.79,416.82 267.95,436.35 260.93,436.91 261.09,416.98 261.60,412.23" fill="#5e7089" />
<line x1="256.58" y1="409.41" x2="267.38" y2="409.37" stroke="#b9b9b9" stroke-width="0.50" />
<polygon points="245.06,399.88 255.62,400.11 255.62,404.92 245.06,404.83" fill="#5f646b" />
<polygon points="244.58,449.79 252.26,448.94 252.26,456.06 244.58,457.06" fill="#f2f2f2" />
<polygon points="259.46,451.64 265.94,450.86 265.94,452.73 259.46,453.54" fill="#3a3a3c" />
<polygon points="268.29,405.47 290.76,405.63 290.76,407.02 268.29,406.95" fill="#a4885d" />
<polygon points="268.29,418.48 290.76,417.82 290.76,419.21 268.29,419.97" fill="#a4885d" />
<polygon points="268.29,432.92 290.76,431.34 290.76,432.73 268.29,434.40" fill="#a4885d" />
<polygon points="268.29,444.38 290.76,442.08 290.76,443.47 268.29,445.87" fill="#a4885d" />
<polygon points="270.50,401.36 289.70,401.72 289.70,405.62 270.50,405.48" fill="#52565c" />
<polygon points="270.50,414.60 287.30,414.28 287.30,417.92 270.50,418.41" fill="#4a5746" />
<polygon points="270.50,429.07 280.10,428.49 280.10,432.09 270.50,432.76" fill="#564d46" />
<polygon points="281.54,427.22 289.94,426.74 289.94,431.11 281.54,431.69" fill="#f2f2f2" />
<polygon points="269.78,440.83 276.02,440.25 276.02,444.19 269.78,444.84" fill="#f2f2f2" />
<polygon points="277.46,436.20 287.78,435.36 287.78,442.09 277.46,443.14" fill="#ecebea" />
<polygon points="282.02,435.83 283.46,435.71 283.46,442.53 282.02,442.68" fill="#c9888a" />
<polygon points="270.02,448.83 276.02,448.13 276.02,452.98 270.02,453.76" fill="#f2f2f2" />
<line x1="231.30" y1="397.70" x2="231.30" y2="457.30" stroke="#606060" stroke-width="0.90" />
<polygon points="231.30,397.70 229.70,401.00 232.90,401.00" fill="#606060" />
<polygon points="231.30,457.30 229.70,454.00 232.90,454.00" fill="#606060" />
<text transform="translate(229.60,442.30) rotate(-90)" font-family="Liberation Sans, sans-serif" font-size="10.30" fill="#646464" textLength="21.10" lengthAdjust="spacingAndGlyphs">2080</text>
<line x1="233.20" y1="461.90" x2="241.70" y2="467.20" stroke="#606060" stroke-width="0.90" />
<polygon points="233.20,461.90 234.47,464.58 236.17,461.87" fill="#606060" />
<polygon points="241.70,467.20 238.73,467.23 240.43,464.52" fill="#606060" />
<text x="219.00" y="474.60" font-family="Liberation Sans, sans-serif" font-size="10.30" fill="#646464" textLength="15.40" lengthAdjust="spacingAndGlyphs" >545</text>
<line x1="244.30" y1="468.80" x2="292.10" y2="461.90" stroke="#606060" stroke-width="0.90" />
<polygon points="244.30,468.80 247.79,469.91 247.34,466.74" fill="#606060" />
<polygon points="292.10,461.90 289.06,463.96 288.61,460.79" fill="#606060" />
<text x="264.80" y="478.20" font-family="Liberation Sans, sans-serif" font-size="10.30" fill="#646464" textLength="20.40" lengthAdjust="spacingAndGlyphs" >1785</text>
<polygon points="309.30,382.70 316.10,380.60 316.10,463.60 309.80,459.00" fill="#b09468" />
<polygon points="316.10,380.60 389.40,384.40 389.40,455.10 316.10,463.60" fill="#b39769" />
<polygon points="316.40,381.22 388.80,384.97 388.80,452.47 316.40,460.87" fill="url(#door)" />
<line x1="331.90" y1="382.02" x2="331.90" y2="459.07" stroke="#f7f7f7" stroke-width="0.80" />
<line x1="332.50" y1="382.02" x2="332.50" y2="459.07" stroke="#cfcfcf" stroke-width="0.40" />
<line x1="346.80" y1="382.79" x2="346.80" y2="457.34" stroke="#f7f7f7" stroke-width="0.80" />
<line x1="347.40" y1="382.79" x2="347.40" y2="457.34" stroke="#cfcfcf" stroke-width="0.40" />
<line x1="362.10" y1="383.58" x2="362.10" y2="455.57" stroke="#f7f7f7" stroke-width="0.80" />
<line x1="362.70" y1="383.58" x2="362.70" y2="455.57" stroke="#cfcfcf" stroke-width="0.40" />
<line x1="375.70" y1="384.29" x2="375.70" y2="453.99" stroke="#f7f7f7" stroke-width="0.80" />
<line x1="376.30" y1="384.29" x2="376.30" y2="453.99" stroke="#cfcfcf" stroke-width="0.40" />
<line x1="331.90" y1="413.40" x2="331.90" y2="459.37" stroke="#c0a173" stroke-width="1.25" />
<line x1="331.90" y1="413.10" x2="331.90" y2="414.60" stroke="#efe9df" stroke-width="1.25" />
<line x1="375.70" y1="413.40" x2="375.70" y2="454.29" stroke="#c0a173" stroke-width="1.25" />
<line x1="375.70" y1="413.10" x2="375.70" y2="414.60" stroke="#efe9df" stroke-width="1.25" />
<line x1="348.50" y1="430.30" x2="362.10" y2="429.50" stroke="#7a6346" stroke-width="1.40" />
<line x1="348.50" y1="437.60" x2="362.10" y2="436.80" stroke="#7a6346" stroke-width="1.40" />
<line x1="348.50" y1="444.90" x2="362.10" y2="444.10" stroke="#7a6346" stroke-width="1.40" />
<polygon points="408.60,395.50 414.10,394.50 414.10,462.70 409.00,459.10" fill="#a08458" />
<polygon points="414.10,394.50 474.40,396.90 474.40,455.20 414.10,462.70" fill="#a98e65" />
<polygon points="415.31,396.04 473.07,398.13 473.07,453.32 415.31,460.17" fill="#e6e6e7" />
<polygon points="466.08,397.88 472.95,398.13 472.95,453.33 466.08,454.15" fill="#9c8056" />
<polygon points="415.31,457.45 466.08,451.76 466.08,454.27 415.31,460.31" fill="#8f7349" />
<polygon points="433.94,396.59 438.22,396.74 438.22,458.09 433.94,458.61" fill="#8f7349" />
<polygon points="438.22,396.74 439.97,396.81 439.97,457.88 438.22,458.09" fill="#a98e65" />
<polygon points="445.40,397.01 449.98,397.17 449.98,456.68 445.40,457.23" fill="#8f7349" />
<polygon points="449.98,397.17 451.73,397.24 451.73,456.47 449.98,456.68" fill="#a98e65" />
<polygon points="415.31,406.11 433.94,406.33 433.94,407.89 415.31,407.74" fill="#a4885d" />
<polygon points="415.31,444.87 433.94,443.35 433.94,446.59 415.31,448.27" fill="#a4885d" />
<polygon points="424.17,424.18 433.94,423.86 433.94,428.09 424.17,428.51" fill="#a4885d" />
<polygon points="416.48,409.85 417.21,409.85 419.67,412.89 420.16,417.93 420.33,439.08 413.36,439.56 413.52,418.04 414.02,412.91" fill="#665e57" />
<polygon points="421.37,409.87 422.09,409.87 424.55,412.87 425.05,417.84 425.22,443.40 418.24,443.95 418.41,417.96 418.90,412.89" fill="#767a80" />
<line x1="413.80" y1="409.84" x2="424.77" y2="409.88" stroke="#b9b9b9" stroke-width="0.50" />
<polygon points="414.82,399.98 426.16,400.28 426.16,406.24 414.82,406.10" fill="#62676d" />
<polygon points="414.40,450.74 422.72,449.94 422.72,457.95 414.40,458.91" fill="#f2f2f2" />
<polygon points="429.78,453.20 437.01,452.44 437.01,454.37 429.78,455.17" fill="#3d3b3a" />
<polygon points="439.97,407.68 445.40,407.73 445.40,409.24 439.97,409.22" fill="#a4885d" />
<polygon points="439.97,418.87 445.40,418.76 445.40,420.28 439.97,420.41" fill="#a4885d" />
<polygon points="439.97,433.26 445.40,432.95 445.40,434.47 439.97,434.80" fill="#a4885d" />
<polygon points="440.63,403.54 446.42,403.65 446.42,407.74 440.63,407.69" fill="#f2f2f2" />
<polygon points="440.63,429.39 450.28,428.94 450.28,432.67 440.63,433.22" fill="#44506a" />
<polygon points="440.63,434.82 453.17,434.05 453.17,455.99 440.63,457.48" fill="#4a3b2a" />
<polygon points="441.11,435.43 452.87,434.69 452.87,439.33 441.11,440.21" fill="#f7f7f7" />
<polygon points="441.54,441.13 453.60,440.20 453.60,444.83 441.54,445.91" fill="#f7f7f7" />
<polygon points="442.08,446.82 454.32,445.69 454.32,455.54 442.08,456.99" fill="#f7f7f7" />
<polygon points="451.73,407.47 472.89,407.67 472.89,409.08 451.73,408.96" fill="#a4885d" />
<polygon points="451.73,440.96 472.89,439.29 472.89,441.63 451.73,443.44" fill="#a4885d" />
<polygon points="452.09,423.28 458.30,423.07 458.30,426.73 452.09,426.99" fill="#a4885d" />
<polygon points="460.76,410.28 461.48,410.28 464.03,412.99 464.54,417.48 464.71,430.65 457.52,431.04 457.70,417.60 458.21,413.02" fill="#4f6380" />
<polygon points="465.79,410.29 466.52,410.29 469.06,412.96 469.58,417.39 469.75,434.52 462.56,434.98 462.73,417.51 463.24,412.99" fill="#5b6f8b" />
<line x1="458.00" y1="410.28" x2="469.27" y2="410.30" stroke="#b9b9b9" stroke-width="0.50" />
<polygon points="452.09,403.45 464.33,403.69 464.33,407.59 452.09,407.48" fill="#4e5258" />
<polygon points="453.90,432.47 457.21,432.28 457.21,440.53 453.90,440.79" fill="#d5a9a2" />
<polygon points="457.52,446.31 465.05,445.59 465.05,450.38 457.52,451.19" fill="#f2f2f2" />
<polygon points="465.78,444.93 471.81,444.36 471.81,449.06 465.78,449.70" fill="#ebebeb" />
<line x1="402.70" y1="399.70" x2="402.70" y2="459.90" stroke="#606060" stroke-width="0.90" />
<polygon points="402.70,399.70 401.10,403.00 404.30,403.00" fill="#606060" />
<polygon points="402.70,459.90 401.10,456.60 404.30,456.60" fill="#606060" />
<text transform="translate(401.40,443.70) rotate(-90)" font-family="Liberation Sans, sans-serif" font-size="10.30" fill="#646464" textLength="20.90" lengthAdjust="spacingAndGlyphs">2080</text>
<line x1="404.70" y1="463.30" x2="412.60" y2="468.80" stroke="#606060" stroke-width="0.90" />
<polygon points="404.70,463.30 405.84,466.04 407.67,463.42" fill="#606060" />
<polygon points="412.60,468.80 409.63,468.68 411.46,466.06" fill="#606060" />
<text x="386.90" y="474.20" font-family="Liberation Sans, sans-serif" font-size="10.30" fill="#646464" textLength="15.40" lengthAdjust="spacingAndGlyphs" >545</text>
<line x1="416.50" y1="469.80" x2="476.80" y2="461.90" stroke="#606060" stroke-width="0.90" />
<polygon points="416.50,469.80 419.98,470.96 419.56,467.78" fill="#606060" />
<polygon points="476.80,461.90 473.74,463.92 473.32,460.74" fill="#606060" />
<text x="445.80" y="478.60" font-family="Liberation Sans, sans-serif" font-size="10.30" fill="#646464" textLength="20.10" lengthAdjust="spacingAndGlyphs" >2220</text>
<polygon points="491.00,383.50 498.30,380.10 498.30,463.40 491.50,458.60" fill="#8f7349" />
<polygon points="498.30,380.10 543.90,383.50 543.90,456.00 498.30,463.40" fill="#a2865a" />
<polygon points="500.30,382.15 542.10,385.27 542.10,453.19 500.30,459.98" fill="url(#door)" />
<line x1="514.00" y1="383.17" x2="514.00" y2="457.75" stroke="#f7f7f7" stroke-width="0.80" />
<line x1="514.60" y1="383.17" x2="514.60" y2="457.75" stroke="#cfcfcf" stroke-width="0.40" />
<line x1="529.00" y1="384.29" x2="529.00" y2="455.32" stroke="#f7f7f7" stroke-width="0.80" />
<line x1="529.60" y1="384.29" x2="529.60" y2="455.32" stroke="#cfcfcf" stroke-width="0.40" />
<line x1="514.00" y1="413.40" x2="514.00" y2="458.05" stroke="#c0a173" stroke-width="1.25" />
<line x1="514.00" y1="413.10" x2="514.00" y2="414.60" stroke="#efe9df" stroke-width="1.25" />
<line x1="529.00" y1="413.40" x2="529.00" y2="455.62" stroke="#c0a173" stroke-width="1.25" />
<line x1="529.00" y1="413.10" x2="529.00" y2="414.60" stroke="#efe9df" stroke-width="1.25" />
<polygon points="565.20,398.50 571.60,396.10 571.60,461.60 565.70,457.50" fill="#8d7147" />
<polygon points="571.60,396.10 607.70,397.90 607.70,456.80 571.60,461.60" fill="#a68b60" />
<polygon points="572.68,397.59 606.44,399.14 606.44,454.90 572.68,459.17" fill="#e6e6e7" />
<polygon points="603.55,399.01 606.51,399.14 606.51,454.89 603.55,455.26" fill="#9c8056" />
<polygon points="572.68,456.56 603.55,452.88 603.55,455.38 572.68,459.30" fill="#8f7349" />
<polygon points="590.99,398.31 594.52,398.47 594.52,457.02 590.99,457.47" fill="#8f7349" />
<polygon points="594.52,398.47 596.36,398.55 596.36,456.78 594.52,457.02" fill="#a98e65" />
<polygon points="572.68,407.58 590.99,407.91 590.99,409.40 572.68,409.15" fill="#a4885d" />
<polygon points="572.68,445.13 590.99,443.53 590.99,446.32 572.68,448.07" fill="#a4885d" />
<polygon points="588.82,446.53 590.73,446.35 590.73,456.89 588.82,457.13" fill="#8f7349" />
<polygon points="590.73,446.35 591.96,446.23 591.96,456.73 590.73,456.89" fill="#a98e65" />
<polygon points="574.99,425.47 581.92,425.24 581.92,428.74 574.99,429.03" fill="#a4885d" />
<polygon points="573.44,410.20 573.87,410.21 575.45,413.14 575.77,418.00 575.87,439.35 571.44,439.67 571.55,418.04 571.86,413.13" fill="#4c586c" />
<line x1="571.74" y1="410.18" x2="575.57" y2="410.22" stroke="#b9b9b9" stroke-width="0.50" />
<polygon points="583.90,410.31 584.33,410.32 586.06,413.16 586.41,417.87 586.52,437.65 581.71,437.98 581.82,417.93 582.17,413.15" fill="#6b6a66" />
<polygon points="587.27,410.35 587.70,410.35 589.43,413.17 589.78,417.84 589.89,441.76 585.08,442.16 585.19,417.89 585.54,413.16" fill="#7b7f84" />
<polygon points="590.64,410.38 591.07,410.39 592.80,413.18 593.14,417.80 593.26,437.18 588.45,437.51 588.56,417.85 588.91,413.17" fill="#5d5a57" />
<line x1="582.07" y1="410.29" x2="592.90" y2="410.41" stroke="#b9b9b9" stroke-width="0.50" />
<polygon points="572.68,453.95 579.40,453.19 579.40,458.00 572.68,458.84" fill="#f2f2f2" />
<polygon points="572.86,401.06 578.82,401.27 578.82,407.69 572.86,407.59" fill="#f2f2f2" />
<polygon points="580.62,402.30 590.73,402.63 590.73,407.90 580.62,407.72" fill="#74787c" />
<polygon points="596.36,408.19 606.44,408.36 606.44,409.78 596.36,409.65" fill="#a4885d" />
<polygon points="596.36,419.65 606.44,419.48 606.44,420.90 596.36,421.11" fill="#a4885d" />
<polygon points="596.36,432.33 606.44,431.78 606.44,433.20 596.36,433.80" fill="#a4885d" />
<polygon points="596.36,443.19 606.44,442.30 606.44,443.72 596.36,444.65" fill="#a4885d" />
<polygon points="597.59,439.31 603.55,438.86 603.55,442.56 597.59,443.08" fill="#f2f2f2" />
<polygon points="597.59,448.42 603.55,447.81 603.55,452.58 597.59,453.28" fill="#f2f2f2" />
<polygon points="596.87,404.97 603.37,405.15 603.37,408.31 596.87,408.20" fill="#5b5f66" />
<polygon points="596.87,416.84 603.01,416.79 603.01,419.54 596.87,419.64" fill="#5e4a44" />
<polygon points="596.87,427.80 603.37,427.53 603.37,431.95 596.87,432.31" fill="#47523f" />
<line x1="559.30" y1="399.60" x2="559.30" y2="458.80" stroke="#606060" stroke-width="0.90" />
<polygon points="559.30,399.60 557.70,402.90 560.90,402.90" fill="#606060" />
<polygon points="559.30,458.80 557.70,455.50 560.90,455.50" fill="#606060" />
<text transform="translate(558.80,439.70) rotate(-90)" font-family="Liberation Sans, sans-serif" font-size="10.30" fill="#646464" textLength="20.90" lengthAdjust="spacingAndGlyphs">2100</text>
<line x1="558.90" y1="462.80" x2="566.40" y2="469.10" stroke="#606060" stroke-width="0.90" />
<polygon points="558.90,462.80 559.79,465.63 561.84,463.18" fill="#606060" />
<polygon points="566.40,469.10 563.46,468.72 565.51,466.27" fill="#606060" />
<text x="541.60" y="474.10" font-family="Liberation Sans, sans-serif" font-size="10.30" fill="#646464" textLength="15.40" lengthAdjust="spacingAndGlyphs" >605</text>
<line x1="569.20" y1="470.10" x2="610.30" y2="463.80" stroke="#606060" stroke-width="0.90" />
<polygon points="569.20,470.10 572.70,471.18 572.22,468.02" fill="#606060" />
<polygon points="610.30,463.80 607.28,465.88 606.80,462.72" fill="#606060" />
<text x="583.60" y="478.50" font-family="Liberation Sans, sans-serif" font-size="10.30" fill="#646464" textLength="20.70" lengthAdjust="spacingAndGlyphs" >1390</text>
<polygon points="623.10,384.40 629.90,381.00 629.90,463.60 623.60,458.90" fill="#8f7349" />
<polygon points="629.90,381.00 688.70,384.90 688.70,454.80 629.90,463.60" fill="#a2865a" />
<polygon points="631.90,383.03 686.90,386.68 686.90,451.97 631.90,460.20" fill="url(#door)" />
<line x1="645.30" y1="383.92" x2="645.30" y2="458.20" stroke="#f7f7f7" stroke-width="0.80" />
<line x1="645.90" y1="383.92" x2="645.90" y2="458.20" stroke="#cfcfcf" stroke-width="0.40" />
<line x1="659.80" y1="384.88" x2="659.80" y2="456.03" stroke="#f7f7f7" stroke-width="0.80" />
<line x1="660.40" y1="384.88" x2="660.40" y2="456.03" stroke="#cfcfcf" stroke-width="0.40" />
<line x1="674.20" y1="385.84" x2="674.20" y2="453.87" stroke="#f7f7f7" stroke-width="0.80" />
<line x1="674.80" y1="385.84" x2="674.80" y2="453.87" stroke="#cfcfcf" stroke-width="0.40" />
<line x1="645.30" y1="413.90" x2="645.30" y2="458.50" stroke="#c0a173" stroke-width="1.25" />
<line x1="645.30" y1="413.60" x2="645.30" y2="415.10" stroke="#efe9df" stroke-width="1.25" />
<line x1="674.20" y1="413.90" x2="674.20" y2="454.17" stroke="#c0a173" stroke-width="1.25" />
<line x1="674.20" y1="413.60" x2="674.20" y2="415.10" stroke="#efe9df" stroke-width="1.25" />
<polygon points="710.80,399.60 716.60,397.10 716.60,461.60 711.20,457.50" fill="#8d7147" />
<polygon points="716.60,397.10 763.30,399.80 763.30,455.20 716.60,461.60" fill="#a68b60" />
<polygon points="717.77,398.58 762.13,400.96 762.13,453.41 717.77,459.19" fill="#e6e6e7" />
<polygon points="755.13,400.58 761.99,400.95 761.99,453.43 755.13,454.33" fill="#9c8056" />
<polygon points="717.77,456.62 755.13,452.05 755.13,454.44 717.77,459.32" fill="#8f7349" />
<polygon points="735.09,399.39 738.55,399.57 738.55,457.09 735.09,457.54" fill="#8f7349" />
<polygon points="738.55,399.57 740.14,399.66 740.14,456.88 738.55,457.09" fill="#a98e65" />
<polygon points="717.77,407.77 735.09,408.22 735.09,409.68 717.77,409.32" fill="#a4885d" />
<polygon points="717.77,445.69 735.09,444.15 735.09,447.50 717.77,449.23" fill="#a4885d" />
<polygon points="725.47,425.86 729.21,425.75 729.21,428.85 725.47,429.00" fill="#a4885d" />
<polygon points="719.01,411.65 719.57,411.65 721.85,414.54 722.30,419.30 722.45,440.52 716.12,441.00 716.27,419.36 716.72,414.52" fill="#6a625b" />
<polygon points="723.44,411.71 724.00,411.72 726.29,414.57 726.74,419.26 726.89,444.57 720.55,445.13 720.70,419.31 721.16,414.54" fill="#7a7e83" />
<line x1="716.60" y1="411.61" x2="726.41" y2="411.75" stroke="#b9b9b9" stroke-width="0.50" />
<polygon points="731.32,412.43 731.88,412.44 734.37,415.22 734.86,419.79 735.02,434.71 728.18,435.12 728.35,419.86 728.84,415.20" fill="#536580" />
<polygon points="736.11,412.49 736.67,412.50 739.16,415.23 739.64,419.74 739.81,438.63 732.97,439.12 733.13,419.81 733.62,415.22" fill="#5e7089" />
<line x1="728.74" y1="412.40" x2="739.25" y2="412.53" stroke="#b9b9b9" stroke-width="0.50" />
<polygon points="717.53,402.94 727.81,403.36 727.81,408.03 717.53,407.77" fill="#5f646b" />
<polygon points="717.07,451.55 724.54,450.75 724.54,457.68 717.07,458.64" fill="#f2f2f2" />
<polygon points="731.54,453.39 737.85,452.65 737.85,454.46 731.54,455.24" fill="#3a3a3c" />
<polygon points="740.14,408.77 761.99,409.30 761.99,410.63 740.14,410.20" fill="#a4885d" />
<polygon points="740.14,421.35 761.99,420.98 761.99,422.32 740.14,422.79" fill="#a4885d" />
<polygon points="740.14,435.31 761.99,433.95 761.99,435.29 740.14,436.75" fill="#a4885d" />
<polygon points="740.14,446.39 761.99,444.25 761.99,445.58 740.14,447.83" fill="#a4885d" />
<polygon points="742.28,404.83 760.96,405.53 760.96,409.27 742.28,408.82" fill="#52565c" />
<polygon points="742.28,417.62 758.63,417.55 758.63,421.04 742.28,421.31" fill="#4a5746" />
<polygon points="742.28,431.60 751.62,431.13 751.62,434.60 742.28,435.17" fill="#564d46" />
<polygon points="753.03,429.92 761.20,429.54 761.20,433.72 753.03,434.22" fill="#f2f2f2" />
<polygon points="741.58,442.97 747.66,442.44 747.66,446.24 741.58,446.85" fill="#f2f2f2" />
<polygon points="749.06,438.54 759.10,437.79 759.10,444.25 749.06,445.23" fill="#ecebea" />
<polygon points="753.49,438.20 754.89,438.10 754.89,444.66 753.49,444.80" fill="#c9888a" />
<polygon points="741.82,450.70 747.66,450.04 747.66,454.71 741.82,455.46" fill="#f2f2f2" />
<line x1="704.30" y1="399.70" x2="704.30" y2="458.50" stroke="#606060" stroke-width="0.90" />
<polygon points="704.30,399.70 702.70,403.00 705.90,403.00" fill="#606060" />
<polygon points="704.30,458.50 702.70,455.20 705.90,455.20" fill="#606060" />
<text transform="translate(701.80,439.80) rotate(-90)" font-family="Liberation Sans, sans-serif" font-size="10.30" fill="#646464" textLength="21.00" lengthAdjust="spacingAndGlyphs">2100</text>
<line x1="704.90" y1="461.30" x2="713.40" y2="468.20" stroke="#606060" stroke-width="0.90" />
<polygon points="704.90,461.30 705.83,464.12 707.85,461.63" fill="#606060" />
<polygon points="713.40,468.20 710.45,467.87 712.47,465.38" fill="#606060" />
<text x="689.10" y="473.60" font-family="Liberation Sans, sans-serif" font-size="10.30" fill="#646464" textLength="15.40" lengthAdjust="spacingAndGlyphs" >605</text>
<line x1="716.70" y1="469.80" x2="764.10" y2="462.90" stroke="#606060" stroke-width="0.90" />
<polygon points="716.70,469.80 720.20,470.91 719.74,467.74" fill="#606060" />
<polygon points="764.10,462.90 761.06,464.96 760.60,461.79" fill="#606060" />
<text x="733.50" y="478.20" font-family="Liberation Sans, sans-serif" font-size="10.30" fill="#646464" textLength="20.80" lengthAdjust="spacingAndGlyphs" >1825</text>
<polygon points="779.80,384.40 786.10,381.50 786.10,462.80 780.10,457.70" fill="#8f7349" />
<polygon points="786.10,381.50 857.70,385.60 857.70,452.60 786.10,462.80" fill="#a2865a" />
<polygon points="788.10,383.51 855.90,387.40 855.90,449.76 788.10,459.42" fill="url(#door)" />
<line x1="801.40" y1="384.28" x2="801.40" y2="457.52" stroke="#f7f7f7" stroke-width="0.80" />
<line x1="802.00" y1="384.28" x2="802.00" y2="457.52" stroke="#cfcfcf" stroke-width="0.40" />
<line x1="815.90" y1="385.11" x2="815.90" y2="455.45" stroke="#f7f7f7" stroke-width="0.80" />
<line x1="816.50" y1="385.11" x2="816.50" y2="455.45" stroke="#cfcfcf" stroke-width="0.40" />
<line x1="830.40" y1="385.94" x2="830.40" y2="453.39" stroke="#f7f7f7" stroke-width="0.80" />
<line x1="831.00" y1="385.94" x2="831.00" y2="453.39" stroke="#cfcfcf" stroke-width="0.40" />
<line x1="843.20" y1="386.67" x2="843.20" y2="451.57" stroke="#f7f7f7" stroke-width="0.80" />
<line x1="843.80" y1="386.67" x2="843.80" y2="451.57" stroke="#cfcfcf" stroke-width="0.40" />
<line x1="801.40" y1="414.50" x2="801.40" y2="457.82" stroke="#c0a173" stroke-width="1.25" />
<line x1="801.40" y1="414.20" x2="801.40" y2="415.70" stroke="#efe9df" stroke-width="1.25" />
<line x1="843.20" y1="412.80" x2="843.20" y2="451.87" stroke="#c0a173" stroke-width="1.25" />
<line x1="843.20" y1="412.50" x2="843.20" y2="414.00" stroke="#efe9df" stroke-width="1.25" />
<line x1="816.80" y1="430.30" x2="829.50" y2="429.50" stroke="#7a6346" stroke-width="1.40" />
<line x1="816.80" y1="437.10" x2="829.50" y2="436.30" stroke="#7a6346" stroke-width="1.40" />
<line x1="816.80" y1="444.10" x2="829.50" y2="443.30" stroke="#7a6346" stroke-width="1.40" />
<polygon points="877.20,397.90 882.60,395.50 882.60,461.60 877.70,457.50" fill="#8d7147" />
<polygon points="882.60,395.50 941.90,398.50 941.90,454.10 882.60,461.60" fill="#a68b60" />
<polygon points="883.79,397.01 940.60,399.66 940.60,452.31 883.79,459.14" fill="#e6e6e7" />
<polygon points="933.72,399.34 940.48,399.66 940.48,452.33 933.72,453.14" fill="#9c8056" />
<polygon points="883.79,456.51 933.72,450.86 933.72,453.25 883.79,459.28" fill="#8f7349" />
<polygon points="902.11,397.74 906.32,397.94 906.32,457.05 902.11,457.57" fill="#8f7349" />
<polygon points="906.32,397.94 908.04,398.02 908.04,456.84 906.32,457.05" fill="#a98e65" />
<polygon points="913.38,398.27 917.88,398.48 917.88,455.64 913.38,456.19" fill="#8f7349" />
<polygon points="917.88,398.48 919.60,398.56 919.60,455.43 917.88,455.64" fill="#a98e65" />
<polygon points="883.79,406.76 902.11,407.14 902.11,408.64 883.79,408.34" fill="#a4885d" />
<polygon points="883.79,444.32 902.11,442.84 902.11,445.98 883.79,447.61" fill="#a4885d" />
<polygon points="892.50,424.31 902.11,424.05 902.11,428.12 892.50,428.50" fill="#a4885d" />
<polygon points="884.94,410.40 885.65,410.41 888.07,413.36 888.56,418.24 888.73,438.72 881.87,439.17 882.03,418.31 882.52,413.35" fill="#665e57" />
<polygon points="889.75,410.45 890.46,410.46 892.88,413.38 893.37,418.19 893.53,442.89 886.67,443.43 886.84,418.26 887.33,413.36" fill="#767a80" />
<line x1="882.30" y1="410.37" x2="893.10" y2="410.49" stroke="#b9b9b9" stroke-width="0.50" />
<polygon points="883.31,400.81 894.46,401.22 894.46,406.98 883.31,406.75" fill="#62676d" />
<polygon points="882.90,450.00 891.08,449.22 891.08,456.97 882.90,457.93" fill="#f2f2f2" />
<polygon points="898.02,452.36 905.13,451.61 905.13,453.47 898.02,454.26" fill="#3d3b3a" />
<polygon points="908.04,408.49 913.38,408.58 913.38,410.04 908.04,409.97" fill="#a4885d" />
<polygon points="908.04,419.27 913.38,419.19 913.38,420.65 908.04,420.75" fill="#a4885d" />
<polygon points="908.04,433.13 913.38,432.84 913.38,434.30 908.04,434.61" fill="#a4885d" />
<polygon points="908.69,404.50 914.38,404.67 914.38,408.60 908.69,408.50" fill="#f2f2f2" />
<polygon points="908.69,429.40 918.18,428.99 918.18,432.58 908.69,433.09" fill="#44506a" />
<polygon points="908.69,434.63 921.03,433.91 921.03,454.96 908.69,456.46" fill="#4a3b2a" />
<polygon points="909.17,435.22 920.73,434.52 920.73,438.97 909.17,439.82" fill="#f7f7f7" />
<polygon points="909.58,440.71 921.44,439.81 921.44,444.25 909.58,445.31" fill="#f7f7f7" />
<polygon points="910.12,446.18 922.15,445.07 922.15,454.53 910.12,455.98" fill="#f7f7f7" />
<polygon points="919.60,408.39 940.42,408.76 940.42,410.10 919.60,409.82" fill="#a4885d" />
<polygon points="919.60,440.54 940.42,438.93 940.42,441.16 919.60,442.93" fill="#a4885d" />
<polygon points="919.96,423.56 926.07,423.40 926.07,426.90 919.96,427.13" fill="#a4885d" />
<polygon points="928.48,411.16 929.19,411.16 931.70,413.77 932.21,418.07 932.37,430.67 925.30,431.03 925.47,418.15 925.98,413.76" fill="#4f6380" />
<polygon points="933.43,411.20 934.15,411.21 936.65,413.78 937.16,418.01 937.33,434.37 930.26,434.81 930.42,418.09 930.93,413.77" fill="#5b6f8b" />
<line x1="925.77" y1="411.13" x2="936.86" y2="411.24" stroke="#b9b9b9" stroke-width="0.50" />
<polygon points="919.96,404.53 932.00,404.88 932.00,408.61 919.96,408.39" fill="#4e5258" />
<polygon points="921.74,432.39 925.00,432.21 925.00,440.12 921.74,440.38" fill="#d5a9a2" />
<polygon points="925.30,445.66 932.71,444.96 932.71,449.54 925.30,450.35" fill="#f2f2f2" />
<polygon points="933.42,444.32 939.35,443.77 939.35,448.26 933.42,448.89" fill="#ebebeb" />
<line x1="871.80" y1="399.70" x2="871.80" y2="458.20" stroke="#606060" stroke-width="0.90" />
<polygon points="871.80,399.70 870.20,403.00 873.40,403.00" fill="#606060" />
<polygon points="871.80,458.20 870.20,454.90 873.40,454.90" fill="#606060" />
<text transform="translate(869.90,439.30) rotate(-90)" font-family="Liberation Sans, sans-serif" font-size="10.30" fill="#646464" textLength="21.00" lengthAdjust="spacingAndGlyphs">2100</text>
<line x1="873.80" y1="461.80" x2="881.80" y2="467.80" stroke="#606060" stroke-width="0.90" />
<polygon points="873.80,461.80 874.84,464.58 876.76,462.02" fill="#606060" />
<polygon points="881.80,467.80 878.84,467.58 880.76,465.02" fill="#606060" />
<text x="856.20" y="473.70" font-family="Liberation Sans, sans-serif" font-size="10.30" fill="#646464" textLength="15.60" lengthAdjust="spacingAndGlyphs" >605</text>
<line x1="884.20" y1="471.20" x2="942.70" y2="463.20" stroke="#606060" stroke-width="0.90" />
<polygon points="884.20,471.20 887.69,472.34 887.25,469.17" fill="#606060" />
<polygon points="942.70,463.20 939.65,465.23 939.21,462.06" fill="#606060" />
<text x="912.70" y="478.70" font-family="Liberation Sans, sans-serif" font-size="10.30" fill="#646464" textLength="20.00" lengthAdjust="spacingAndGlyphs" >2260</text>
</g>
</svg></body></html>
